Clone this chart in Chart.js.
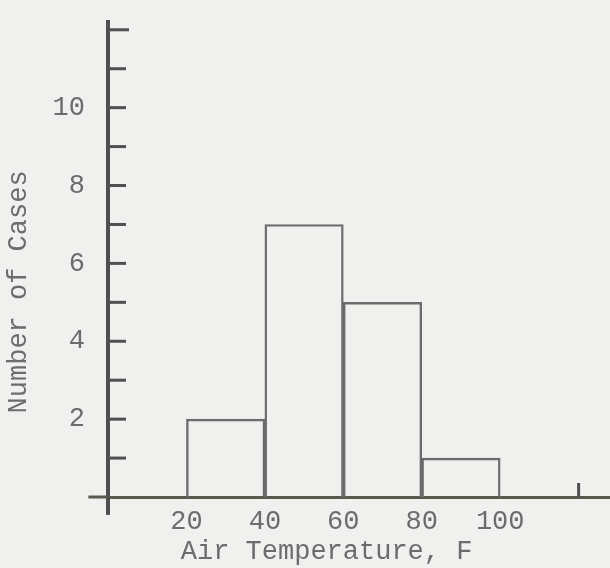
<!DOCTYPE html>
<html>
<head>
<meta charset="utf-8">
<script src="https://cdn.jsdelivr.net/npm/chart.js@4/dist/chart.umd.min.js"></script>
<style>
  html, body { margin: 0; padding: 0; background: #f0f0ee; }
  canvas { display: block; background: #f0f0ee; }
</style>
</head>
<body>
<canvas id="histo" width="610" height="568"></canvas>
<script>
// temperature bins (centre of each 20 F class) and how many cases fell in each
var binCenters = [30, 50, 70, 90]
var caseCounts = [2, 7, 5, 1]

var xTickLabels = [20, 40, 60, 80, 100]
var xTickMarks = [120]
var yTickLabels = [2, 4, 6, 8, 10]
var yTickMarks = [1, 2, 3, 4, 5, 6, 7, 8, 9, 10, 11, 12]

var inkText = '#6c6c6c'
var inkAxis = '#4f4f4f'
var typeFont = { family: "'Liberation Mono', 'DejaVu Sans Mono', monospace", size: 27 }

// no extra room for half-height edge labels, the plot area is set by layout padding
const noEdgePadding = (scale) => {
    scale.paddingTop = 0
    scale.paddingBottom = 0
    scale.paddingLeft = 0
    scale.paddingRight = 0
}

// axis stubs past the origin plus the short inward tick marks
const axisExtras = {
    id: 'axisExtras',
    afterDatasetsDraw(chart) {
        const ctx = chart.ctx
        const xs = chart.scales.x
        const ys = chart.scales.y
        const x0 = xs.getPixelForValue(0)
        const y0 = ys.getPixelForValue(0)
        ctx.save()
        ctx.lineCap = 'butt'
        // y axis runs a little below the baseline
        ctx.strokeStyle = inkAxis
        ctx.lineWidth = 4
        ctx.beginPath()
        ctx.moveTo(x0, y0)
        ctx.lineTo(x0, ys.getPixelForValue(-0.46))
        ctx.stroke()
        // x axis starts a little left of the y axis
        ctx.strokeStyle = '#565c4c'
        ctx.lineWidth = 3
        ctx.beginPath()
        ctx.moveTo(xs.getPixelForValue(-5), y0)
        ctx.lineTo(x0, y0)
        ctx.stroke()
        // y tick marks point into the plot
        ctx.strokeStyle = inkAxis
        ctx.lineWidth = 3
        yTickMarks.forEach((v) => {
            const y = ys.getPixelForValue(v)
            ctx.beginPath()
            ctx.moveTo(x0, y)
            ctx.lineTo(x0 + (v == 12 ? 21 : 18), y)
            ctx.stroke()
        })
        xTickMarks.forEach((v) => {
            const x = xs.getPixelForValue(v)
            ctx.beginPath()
            ctx.moveTo(x, y0)
            ctx.lineTo(x, y0 - 14)
            ctx.stroke()
        })
        ctx.restore()
    }
}

new Chart(document.getElementById('histo').getContext('2d'), {
    type: 'bar',
    data: {
        datasets: [{
            data: binCenters.map((x, i) => ({ x: x, y: caseCounts[i] })),
            backgroundColor: 'rgba(0,0,0,0)',
            borderColor: '#6c6c6c',
            borderWidth: 1.75,
            borderSkipped: 'bottom',
            categoryPercentage: 1,
            barPercentage: 1
        }]
    },
    options: {
        responsive: false,
        animation: false,
        events: [],
        layout: { padding: { top: 22, right: 0, bottom: 0, left: 0 } },
        plugins: {
            legend: { display: false },
            tooltip: { enabled: false }
        },
        scales: {
            x: {
                type: 'linear',
                min: 0,
                max: 128,
                offset: false,
                grid: { display: false, drawTicks: false, offset: false },
                border: { display: true, color: '#565c4c', width: 3 },
                afterBuildTicks: (scale) => { scale.ticks = xTickLabels.map((v) => ({ value: v })) },
                afterFit: (scale) => { scale.height = 71; noEdgePadding(scale) },
                ticks: { color: inkText, font: typeFont, padding: 9, maxRotation: 0 },
                title: {
                    display: true,
                    // trailing blanks pull the typed caption left of centre
                    text: 'Air Temperature, F    ',
                    color: inkText,
                    font: typeFont,
                    padding: { top: 0, bottom: 0 }
                }
            },
            y: {
                type: 'linear',
                min: 0,
                max: 12.2,
                grid: { display: false, drawTicks: false },
                border: { display: true, color: inkAxis, width: 4 },
                afterBuildTicks: (scale) => { scale.ticks = yTickLabels.map((v) => ({ value: v })) },
                afterFit: (scale) => { scale.width = 108; noEdgePadding(scale) },
                ticks: { color: inkText, font: typeFont, padding: 23 },
                title: {
                    display: true,
                    text: 'Number of Cases    ',
                    color: inkText,
                    font: typeFont,
                    padding: { top: 3, bottom: 0 }
                }
            }
        }
    },
    plugins: [axisExtras]
})
</script>
</body>
</html>
